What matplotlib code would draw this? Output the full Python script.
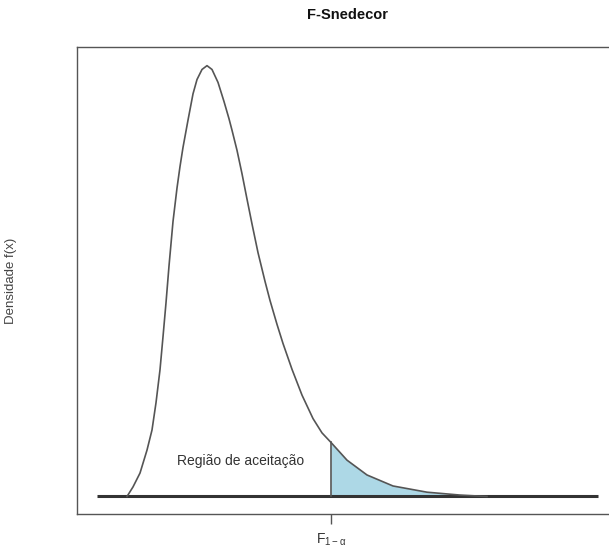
import matplotlib
matplotlib.use("Agg")
import matplotlib.pyplot as plt

plt.rcParams['font.family'] = ['Liberation Sans', 'DejaVu Sans']

# Density curve (x in F units, y in density units)
curve_x = [0.30, 0.36, 0.43, 0.50, 0.55, 0.59, 0.63, 0.66, 0.69, 0.72, 0.76, 0.80,
           0.83, 0.86, 0.91, 0.96, 1.00, 1.05, 1.10, 1.15, 1.21, 1.27, 1.32, 1.35,
           1.40, 1.45, 1.50, 1.55, 1.61, 1.68, 1.73, 1.80, 1.86, 1.95, 2.05, 2.16,
           2.25, 2.34, 2.50, 2.70, 2.96, 3.30, 3.63, 3.90]
curve_y = [0.000, 0.020, 0.049, 0.097, 0.139, 0.196, 0.265, 0.334, 0.405, 0.482, 0.575, 0.645,
           0.690, 0.730, 0.787, 0.842, 0.872, 0.893, 0.901, 0.893, 0.866, 0.826, 0.790, 0.766,
           0.724, 0.675, 0.622, 0.570, 0.510, 0.450, 0.410, 0.360, 0.320, 0.266, 0.212, 0.163,
           0.133, 0.113, 0.076, 0.045, 0.022, 0.009, 0.003, 0.000]
baseline_x = [0.0, 5.01]
critical_value = 2.34
critical_label = r'$\mathregular{F_{1-\alpha}}$'
title = 'F-Snedecor'
ylabel = 'Densidade f(x)'
region_label = 'Região de aceitação'

fig = plt.figure(figsize=(6.09, 5.52), dpi=100)
ax = fig.add_axes([77/609, 38/552, 541/609, 467/552])

ax.plot(baseline_x, [0, 0], color='#333333', lw=2.2, solid_capstyle='butt', zorder=2)
ax.plot(curve_x, curve_y, color='#555555', lw=1.2, zorder=3)

tail_x = [x for x in curve_x if x >= critical_value]
tail_y = [y for x, y in zip(curve_x, curve_y) if x >= critical_value]
ax.fill_between(tail_x, 0, tail_y, color='#ADD8E6', lw=0, zorder=1)
ax.plot([critical_value, critical_value], [0, tail_y[0]], color='#555555', lw=1.2, zorder=3)

ax.text(1.435, 0.075, region_label, ha='center', va='center', fontsize=10, color='#333333')

ax.set_xlim(-0.2, 5.21)
ax.set_ylim(-0.0366, 0.940)
ax.set_xticks([critical_value])
ax.set_xticklabels([critical_label], fontsize=10, color='#333333')
ax.set_yticks([])
ax.tick_params(axis='x', direction='out', length=7, width=1, color='#555555', pad=6)
for s in ax.spines.values():
    s.set_color('#555555')
    s.set_linewidth(1.0)

ax.set_ylabel(ylabel, fontsize=9.5, color='#444444')
ax.yaxis.set_label_coords(-(77-17)/541, 0.5)
fig.text(347/609, 1 - 15/552, title, ha='center', va='center', fontsize=10.5,
         fontweight='bold', color='#111111')

fig.savefig('out.png', dpi=100)
